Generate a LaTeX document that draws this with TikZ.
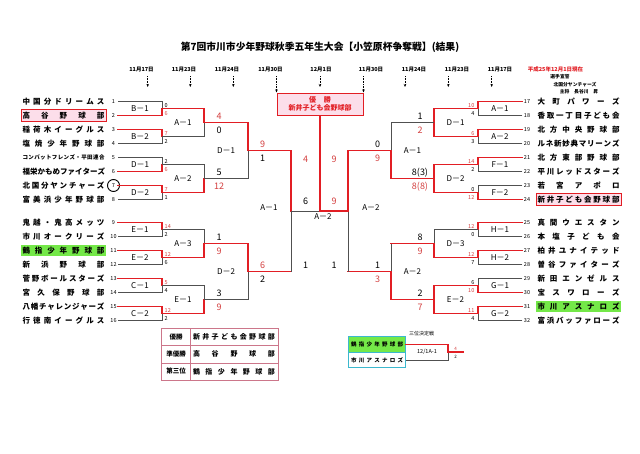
\documentclass[tikz,border=0pt]{standalone}
\usepackage{fontspec}
\setmainfont{Noto Sans CJK JP}
\usetikzlibrary{arrows.meta}

\definecolor{winred}{RGB}{226,30,36}
\definecolor{scorered}{RGB}{212,64,64}
\definecolor{lossgray}{RGB}{80,80,80}
\definecolor{boxpink}{RGB}{252,222,234}
\definecolor{teamgreen}{RGB}{116,232,72}
\definecolor{thirdteal}{RGB}{60,184,206}
\definecolor{tablered}{RGB}{204,118,138}

\makeatletter
\newcommand\spreadtext[2]{\makebox[#1][s]{\def\spreadsep{}\@tfor\spreadch:=#2\do{\spreadsep\spreadch\def\spreadsep{\hfill}}}}
\makeatother

\begin{document}
\begin{tikzpicture}[x=1pt, y=-1pt,
    team/.style={inner xsep=1.5pt, inner ysep=0pt, minimum height=11.5pt, font=\fontsize{7.5}{8}\selectfont\bfseries},
    seed/.style={inner sep=0.5pt, text width=8pt, align=center, font=\fontsize{5.5}{6}\selectfont},
    win/.style={draw=winred, line width=1.8pt, line cap=rect},
    lose/.style={draw=lossgray, line width=0.6pt},
    matchlab/.style={font=\fontsize{8}{8}\selectfont},
    smallscore/.style={inner sep=0pt, font=\fontsize{5.5}{6}\selectfont},
    bigscore/.style={inner sep=0pt, font=\fontsize{9}{9}\selectfont},
    redscore/.style={text=scorered},
    daylab/.style={font=\fontsize{5.5}{6}\selectfont\bfseries},
    dayarrow/.style={densely dotted, line width=0.6pt, -{Stealth[length=3pt, width=2.5pt]}},
    ranklab/.style={font=\fontsize{6.5}{7}\selectfont\bfseries},
    rankteam/.style={inner sep=0pt, font=\fontsize{7}{8}\selectfont\bfseries},
  ]
    \useasboundingbox (0,0) rectangle (640,453);
    \fill[white] (0,0) rectangle (640,453);

    % title
    \node[font=\fontsize{9.8}{10}\selectfont\bfseries] (title) at (320,47) {第7回市川市少年野球秋季五年生大会【小笠原杯争奪戦】(結果)};

    % winner box
    \node[draw=winred, fill=boxpink, line width=1pt, minimum width=86pt, minimum height=22pt, inner sep=0pt, text=winred, align=center, font=\fontsize{7}{8.5}\selectfont\bfseries] (champ) at (320,104) {優\hspace{8pt}勝\\新井子ども会野球部};

    % dates
    \node[daylab] (d1) at (141.5,70) {11月17日};
    \node[daylab] (d2) at (184,70) {11月23日};
    \node[daylab] (d3) at (227,70) {11月24日};
    \node[daylab] (d4) at (270.5,70) {11月30日};
    \node[daylab] (d5) at (321,70) {12月1日};
    \node[daylab] (d6) at (371,70) {11月30日};
    \node[daylab] (d7) at (414,70) {11月24日};
    \node[daylab] (d8) at (457,70) {11月23日};
    \node[daylab] (d9) at (500,70) {11月17日};
    \coordinate (e1) at (147.7,87);
    \coordinate (e2) at (190.3,87);
    \coordinate (e3) at (233.3,87);
    \coordinate (e5) at (320,87);
    \coordinate (e7) at (405,87);
    \coordinate (e8) at (448.3,87);
    \coordinate (e9) at (491.7,87);
    \draw[dayarrow] (d1.south -| e1) -- (e1);
    \draw[dayarrow] (d2.south -| e2) -- (e2);
    \draw[dayarrow] (d3.south -| e3) -- (e3);
    \draw[dayarrow] (d4.south -| champ.north west) -- (champ.north west);
    \draw[dayarrow] (d5.south -| e5) -- (e5);
    \draw[dayarrow] (d6.south -| champ.north east) -- (champ.north east);
    \draw[dayarrow] (d7.south -| e7) -- (e7);
    \draw[dayarrow] (d8.south -| e8) -- (e8);
    \draw[dayarrow] (d9.south -| e9) -- (e9);

    % note top right
    \node[font=\fontsize{5.5}{6}\selectfont\bfseries, text=winred] (asof) at (555.5,69) {平成25年12月1日現在};
    \node[font=\fontsize{4.8}{5}\selectfont\bfseries] (oath) at (560,77) {選手宣誓};
    \node[font=\fontsize{4.8}{5}\selectfont\bfseries] (oathteam) at (575,84.5) {北国分ヤンチャーズ};
    \node[font=\fontsize{4.8}{5}\selectfont\bfseries] (oathname) at (579,92) {主将　長谷川　昇};

    % left teams
    \node[team] (t1) at (63.5,101.5) {\spreadtext{82pt}{中国分ドリームス}};
    \node[team, fill=boxpink, draw=winred, line width=0.8pt] (t2) at (63.5,115.5) {\spreadtext{82pt}{高谷野球部}};
    \node[team] (t3) at (63.5,129.5) {\spreadtext{82pt}{稲荷木イーグルス}};
    \node[team] (t4) at (63.5,143.5) {\spreadtext{82pt}{塩焼少年野球部}};
    \node[team] (t5) at (63.5,157.5) {\fontsize{5.5}{6}\selectfont\spreadtext{82pt}{コンバットフレンズ・平田連合}};
    \node[team] (t6) at (63.5,171.5) {\spreadtext{82pt}{福栄かもめファイターズ}};
    \node[team] (t7) at (63.5,185.5) {\spreadtext{82pt}{北国分ヤンチャーズ}};
    \node[team] (t8) at (63.5,199.5) {\spreadtext{82pt}{富美浜少年野球部}};
    \node[team] (t9) at (63.5,222.5) {\spreadtext{82pt}{鬼越・鬼高メッツ}};
    \node[team] (t10) at (63.5,236.5) {\spreadtext{82pt}{市川オークリーズ}};
    \node[team, fill=teamgreen] (t11) at (63.5,250.5) {\spreadtext{82pt}{鶴指少年野球部}};
    \node[team] (t12) at (63.5,264.5) {\spreadtext{82pt}{新浜野球部}};
    \node[team] (t13) at (63.5,278.5) {\spreadtext{82pt}{菅野ボールスターズ}};
    \node[team] (t14) at (63.5,292.5) {\spreadtext{82pt}{宮久保野球部}};
    \node[team] (t15) at (63.5,306.5) {\spreadtext{82pt}{八幡チャレンジャーズ}};
    \node[team] (t16) at (63.5,320.5) {\spreadtext{82pt}{行徳南イーグルス}};

    \node[seed] (n1) at (113.5,101.5) {1};
    \node[seed] (n2) at (113.5,115.5) {2};
    \node[seed] (n3) at (113.5,129.5) {3};
    \node[seed] (n4) at (113.5,143.5) {4};
    \node[seed] (n5) at (113.5,157.5) {5};
    \node[seed] (n6) at (113.5,171.5) {6};
    \node[seed] (n7) at (113.5,185.5) {7};
    \node[seed] (n8) at (113.5,199.5) {8};
    \node[seed] (n9) at (113.5,222.5) {9};
    \node[seed] (n10) at (113.5,236.5) {10};
    \node[seed] (n11) at (113.5,250.5) {11};
    \node[seed] (n12) at (113.5,264.5) {12};
    \node[seed] (n13) at (113.5,278.5) {13};
    \node[seed] (n14) at (113.5,292.5) {14};
    \node[seed] (n15) at (113.5,306.5) {15};
    \node[seed] (n16) at (113.5,320.5) {16};
    \draw[line width=0.9pt] (n7.center) circle (6);

    % right teams
    \node[seed] (n17) at (527,101.5) {17};
    \node[seed] (n18) at (527,115.5) {18};
    \node[seed] (n19) at (527,129.5) {19};
    \node[seed] (n20) at (527,143.5) {20};
    \node[seed] (n21) at (527,157.5) {21};
    \node[seed] (n22) at (527,171.5) {22};
    \node[seed] (n23) at (527,185.5) {23};
    \node[seed] (n24) at (527,199.5) {24};
    \node[seed] (n25) at (527,222.5) {25};
    \node[seed] (n26) at (527,236.5) {26};
    \node[seed] (n27) at (527,250.5) {27};
    \node[seed] (n28) at (527,264.5) {28};
    \node[seed] (n29) at (527,278.5) {29};
    \node[seed] (n30) at (527,292.5) {30};
    \node[seed] (n31) at (527,306.5) {31};
    \node[seed] (n32) at (527,320.5) {32};

    \node[team] (t17) at (578.5,101.5) {\spreadtext{82pt}{大町パワーズ}};
    \node[team] (t18) at (578.5,115.5) {\spreadtext{82pt}{香取一丁目子ども会}};
    \node[team] (t19) at (578.5,129.5) {\spreadtext{82pt}{北方中央野球部}};
    \node[team] (t20) at (578.5,143.5) {\spreadtext{82pt}{ルネ新妙典マリーンズ}};
    \node[team] (t21) at (578.5,157.5) {\spreadtext{82pt}{北方東部野球部}};
    \node[team] (t22) at (578.5,171.5) {\spreadtext{82pt}{平川レッドスターズ}};
    \node[team] (t23) at (578.5,185.5) {\spreadtext{82pt}{若宮アポロ}};
    \node[team, fill=boxpink, draw=winred, line width=0.8pt] (t24) at (578.5,199.5) {\spreadtext{82pt}{新井子ども会野球部}};
    \node[team] (t25) at (578.5,222.5) {\spreadtext{82pt}{真間ウエスタン}};
    \node[team] (t26) at (578.5,236.5) {\spreadtext{82pt}{本塩子ども会}};
    \node[team] (t27) at (578.5,250.5) {\spreadtext{82pt}{柏井ユナイテッド}};
    \node[team] (t28) at (578.5,264.5) {\spreadtext{82pt}{曽谷ファイターズ}};
    \node[team] (t29) at (578.5,278.5) {\spreadtext{82pt}{新田エンゼルス}};
    \node[team] (t30) at (578.5,292.5) {\spreadtext{82pt}{宝スワローズ}};
    \node[team, fill=teamgreen] (t31) at (578.5,306.5) {\spreadtext{82pt}{市川アスナロズ}};
    \node[team] (t32) at (578.5,320.5) {\spreadtext{82pt}{富浜バッファローズ}};

    % bracket points
    \coordinate (o1) at (162,108.5);
    \coordinate (o2) at (162,136.5);
    \coordinate (o3) at (162,164.5);
    \coordinate (o4) at (162,192.5);
    \coordinate (o5) at (162,229.5);
    \coordinate (o6) at (162,257.5);
    \coordinate (o7) at (162,285.5);
    \coordinate (o8) at (162,313.5);
    \coordinate (p1) at (204,122.5);
    \coordinate (p2) at (204,178.5);
    \coordinate (p3) at (204,243.5);
    \coordinate (p4) at (204,299.5);
    \coordinate (q1) at (248,150.5);
    \coordinate (q2) at (248,271.5);
    \coordinate (s1) at (291,211);
    \coordinate (f) at (320,211);
    \coordinate (s2) at (348,211);
    \coordinate (q3) at (391,150.5);
    \coordinate (q4) at (391,271.5);
    \coordinate (p5) at (434,122.5);
    \coordinate (p6) at (434,178.5);
    \coordinate (p7) at (434,243.5);
    \coordinate (p8) at (434,299.5);
    \coordinate (o9) at (478,108.5);
    \coordinate (o10) at (478,136.5);
    \coordinate (o11) at (478,164.5);
    \coordinate (o12) at (478,192.5);
    \coordinate (o13) at (478,229.5);
    \coordinate (o14) at (478,257.5);
    \coordinate (o15) at (478,285.5);
    \coordinate (o16) at (478,313.5);

    % left first round
    \draw[lose] (n1.east) -| (o1);
    \draw[win] (n2.east) -| (o1);
    \draw[lose] (n4.east) -| (o2);
    \draw[win] (n3.east) -| (o2);
    \draw[lose] (n5.east) -| (o3);
    \draw[win] (n6.east) -| (o3);
    \draw[lose] (n8.east) -| (o4);
    \draw[win] (n7.east) -| (o4);
    \draw[lose] (n10.east) -| (o5);
    \draw[win] (n9.east) -| (o5);
    \draw[lose] (n12.east) -| (o6);
    \draw[win] (n11.east) -| (o6);
    \draw[lose] (n14.east) -| (o7);
    \draw[win] (n13.east) -| (o7);
    \draw[lose] (n16.east) -| (o8);
    \draw[win] (n15.east) -| (o8);

    % left second round
    \draw[lose] (o2) -| (p1);
    \draw[win] (o1) -| (p1);
    \draw[lose] (o3) -| (p2);
    \draw[win] (o4) -| (p2);
    \draw[lose] (o5) -| (p3);
    \draw[win] (o6) -| (p3);
    \draw[lose] (o7) -| (p4);
    \draw[win] (o8) -| (p4);

    % left third round
    \draw[lose] (p2) -| (q1);
    \draw[win] (p1) -| (q1);
    \draw[lose] (p4) -| (q2);
    \draw[win] (p3) -| (q2);

    % left semi final
    \draw[win] (q2) -- (q2 -| s1);
    \draw[lose] (q2 -| s1) -- (s1);
    \draw[win] (q1) -| (s1);

    % right first round
    \draw[lose] (n18.west) -| (o9);
    \draw[win] (n17.west) -| (o9);
    \draw[lose] (n20.west) -| (o10);
    \draw[win] (n19.west) -| (o10);
    \draw[lose] (n22.west) -| (o11);
    \draw[win] (n21.west) -| (o11);
    \draw[lose] (n23.west) -| (o12);
    \draw[win] (n24.west) -| (o12);
    \draw[lose] (n26.west) -| (o13);
    \draw[win] (n25.west) -| (o13);
    \draw[lose] (n28.west) -| (o14);
    \draw[win] (n27.west) -| (o14);
    \draw[lose] (n29.west) -| (o15);
    \draw[win] (n30.west) -| (o15);
    \draw[lose] (n32.west) -| (o16);
    \draw[win] (n31.west) -| (o16);

    % right second round
    \draw[win] (o9) -| (p5);
    \draw[win] (o10) -| (p5);
    \draw[win] (o11) -| (p6);
    \draw[win] (o12) -| (p6);
    \draw[lose] (o13) -| (p7);
    \draw[win] (o14) -| (p7);
    \draw[win] (o15) -| (p8);
    \draw[win] (o16) -| (p8);

    % right third round
    \draw[lose] (p5) -| (q3);
    \draw[win] (p6) -| (q3);
    \draw[win] (p7) -- (p7 -| q4);
    \draw[lose] (p7 -| q4) -- (q4);
    \draw[win] (p8) -| (q4);

    % right semi final
    \draw[win] (q4) -- (q4 -| s2);
    \draw[lose] (q4 -| s2) -- (s2);
    \draw[win] (q3) -| (s2);

    % final
    \draw[lose] (s1) -- (f);
    \draw[win] (s2) -- (f) -- (champ.south);

    % match labels
    \node[matchlab] (lb1) at (140,108.5) {B－1};
    \node[matchlab] (lb2) at (140,136.5) {B－2};
    \node[matchlab] (lb3) at (140,164.5) {D－1};
    \node[matchlab] (lb4) at (140,192.5) {D－2};
    \node[matchlab] (lb5) at (140,229.5) {E－1};
    \node[matchlab] (lb6) at (140,257.5) {E－2};
    \node[matchlab] (lb7) at (140,285.5) {C－1};
    \node[matchlab] (lb8) at (140,313.5) {C－2};
    \node[matchlab] (lc1) at (183,122.5) {A－1};
    \node[matchlab] (lc2) at (183,178.5) {A－2};
    \node[matchlab] (lc3) at (183,243.5) {A－3};
    \node[matchlab] (lc4) at (183,299.5) {E－1};
    \node[matchlab] (ld1) at (226,150.5) {D－1};
    \node[matchlab] (ld2) at (226,271.5) {D－2};
    \node[matchlab] (ls1) at (269,208) {A－1};
    \node[matchlab] (lf) at (323,217) {A－2};
    \node[matchlab] (ls2) at (371,208) {A－2};
    \node[matchlab] (ld3) at (412.5,150.5) {A－1};
    \node[matchlab] (ld4) at (412.5,271.5) {A－2};
    \node[matchlab] (lc5) at (455.5,122.5) {D－1};
    \node[matchlab] (lc6) at (455.5,178.5) {D－2};
    \node[matchlab] (lc7) at (455.5,243.5) {D－3};
    \node[matchlab] (lc8) at (455.5,299.5) {E－2};
    \node[matchlab] (lb9) at (500,108.5) {A－1};
    \node[matchlab] (lb10) at (500,136.5) {A－2};
    \node[matchlab] (lb11) at (500,164.5) {F－1};
    \node[matchlab] (lb12) at (500,192.5) {F－2};
    \node[matchlab] (lb13) at (500,229.5) {H－1};
    \node[matchlab] (lb14) at (500,257.5) {H－2};
    \node[matchlab] (lb15) at (500,285.5) {G－1};
    \node[matchlab] (lb16) at (500,313.5) {G－2};

    % scores left first round
    \node[smallscore, anchor=west] (sa1) at (164.5,105.5) {0};
    \node[smallscore, anchor=west, redscore] (sa2) at (164.5,113.5) {6};
    \node[smallscore, anchor=west, redscore] (sa3) at (164.5,133.5) {7};
    \node[smallscore, anchor=west] (sa4) at (164.5,141.5) {2};
    \node[smallscore, anchor=west] (sa5) at (164.5,161.5) {2};
    \node[smallscore, anchor=west, redscore] (sa6) at (164.5,169.5) {6};
    \node[smallscore, anchor=west, redscore] (sa7) at (164.5,189.5) {7};
    \node[smallscore, anchor=west] (sa8) at (164.5,197.5) {1};
    \node[smallscore, anchor=west, redscore] (sa9) at (164.5,226.5) {14};
    \node[smallscore, anchor=west] (sa10) at (164.5,234.5) {2};
    \node[smallscore, anchor=west, redscore] (sa11) at (164.5,254.5) {12};
    \node[smallscore, anchor=west] (sa12) at (164.5,262.5) {6};
    \node[smallscore, anchor=west, redscore] (sa13) at (164.5,282.5) {5};
    \node[smallscore, anchor=west] (sa14) at (164.5,290.5) {4};
    \node[smallscore, anchor=west, redscore] (sa15) at (164.5,310.5) {12};
    \node[smallscore, anchor=west] (sa16) at (164.5,318.5) {2};

    % scores right first round
    \node[smallscore, anchor=east, redscore] (sa17) at (474.5,105.5) {10};
    \node[smallscore, anchor=east] (sa18) at (474.5,113.5) {4};
    \node[smallscore, anchor=east, redscore] (sa19) at (474.5,133.5) {6};
    \node[smallscore, anchor=east] (sa20) at (474.5,141.5) {3};
    \node[smallscore, anchor=east, redscore] (sa21) at (474.5,161.5) {14};
    \node[smallscore, anchor=east] (sa22) at (474.5,169.5) {2};
    \node[smallscore, anchor=east] (sa23) at (474.5,189.5) {0};
    \node[smallscore, anchor=east, redscore] (sa24) at (474.5,197.5) {12};
    \node[smallscore, anchor=east, redscore] (sa25) at (474.5,226.5) {12};
    \node[smallscore, anchor=east] (sa26) at (474.5,234.5) {0};
    \node[smallscore, anchor=east, redscore] (sa27) at (474.5,254.5) {12};
    \node[smallscore, anchor=east] (sa28) at (474.5,262.5) {7};
    \node[smallscore, anchor=east] (sa29) at (474.5,282.5) {6};
    \node[smallscore, anchor=east, redscore] (sa30) at (474.5,290.5) {10};
    \node[smallscore, anchor=east, redscore] (sa31) at (474.5,310.5) {11};
    \node[smallscore, anchor=east] (sa32) at (474.5,318.5) {4};

    % scores second round
    \node[bigscore, redscore] (sb1) at (219,116.5) {4};
    \node[bigscore] (sb2) at (219,130.5) {0};
    \node[bigscore] (sb3) at (219,172.5) {5};
    \node[bigscore, redscore] (sb4) at (219,186.5) {12};
    \node[bigscore] (sb5) at (219,237.5) {1};
    \node[bigscore, redscore] (sb6) at (219,251.5) {9};
    \node[bigscore] (sb7) at (219,293.5) {3};
    \node[bigscore, redscore] (sb8) at (219,307.5) {9};
    \node[bigscore] (sb9) at (420,116.5) {1};
    \node[bigscore, redscore] (sb10) at (420,130.5) {2};
    \node[bigscore] (sb11) at (420,172.5) {8(3)};
    \node[bigscore, redscore] (sb12) at (420,186.5) {8(8)};
    \node[bigscore] (sb13) at (420,237.5) {8};
    \node[bigscore, redscore] (sb14) at (420,251.5) {9};
    \node[bigscore] (sb15) at (420,293.5) {2};
    \node[bigscore, redscore] (sb16) at (420,307.5) {7};

    % scores third round
    \node[bigscore, redscore] (sc1) at (262.5,144.5) {9};
    \node[bigscore] (sc2) at (262.5,158.5) {1};
    \node[bigscore, redscore] (sc3) at (262.5,265.5) {6};
    \node[bigscore] (sc4) at (262.5,279.5) {2};
    \node[bigscore] (sc5) at (377.5,144.5) {0};
    \node[bigscore, redscore] (sc6) at (377.5,158.5) {9};
    \node[bigscore] (sc7) at (377.5,265.5) {1};
    \node[bigscore, redscore] (sc8) at (377.5,279.5) {3};

    % scores semi final and final
    \node[bigscore, redscore] (sd1) at (305.5,159) {4};
    \node[bigscore] (sd2) at (305.5,265) {1};
    \node[bigscore, redscore] (sd3) at (334,159) {9};
    \node[bigscore] (sd4) at (334,265) {1};
    \node[bigscore] (se1) at (305.5,201.5) {6};
    \node[bigscore, redscore] (se2) at (334,201.5) {9};

    % result table
    \draw[tablered, line width=0.6pt] (161.5,328.5) rectangle (278.5,380);
    \draw[tablered, line width=0.6pt] (161.5,345.5) -- (278.5,345.5);
    \draw[tablered, line width=0.6pt] (161.5,362.8) -- (278.5,362.8);
    \draw[tablered, line width=0.6pt] (190,328.5) -- (190,380);
    \node[ranklab] (rk1) at (176,337) {優勝};
    \node[ranklab] (rk2) at (176,354.2) {準優勝};
    \node[ranklab] (rk3) at (176,371.4) {第三位};
    \node[rankteam] (rt1) at (234,337) {\spreadtext{82pt}{新井子ども会野球部}};
    \node[rankteam] (rt2) at (234,354.2) {\spreadtext{82pt}{高谷野球部}};
    \node[rankteam] (rt3) at (234,371.4) {\spreadtext{82pt}{鶴指少年野球部}};

    % third place match
    \node[font=\fontsize{5}{6}\selectfont] (thirdlab) at (421.7,333.3) {三位決定戦};
    \node[fill=teamgreen, minimum width=57.4pt, minimum height=15.4pt, inner sep=0pt, font=\fontsize{5.5}{6}\selectfont\bfseries] (th1) at (377,344.4) {\spreadtext{52pt}{鶴指少年野球部}};
    \node[minimum width=57.4pt, minimum height=15.6pt, inner sep=0pt, font=\fontsize{5.5}{6}\selectfont\bfseries] (th2) at (377,359.9) {\spreadtext{52pt}{市川アスナロズ}};
    \draw[thirdteal, line width=0.9pt] (th1.north west) rectangle (th2.south east);
    \draw[thirdteal, line width=0.5pt] (th1.south west) -- (th1.south east);
    \coordinate (tp) at (448.3,352.2);
    \coordinate (tpo) at (463.3,352.2);
    \draw[lose] (th2.east) -| (tp);
    \draw[win] (th1.east) -| (tp);
    \draw[win] (tp) -- (tpo);
    \node[font=\fontsize{5.5}{6}\selectfont] (thirdmatch) at (427,352.2) {12/1A-1};
    \node[inner sep=0pt, font=\fontsize{4.5}{5}\selectfont, redscore] (tsa) at (455.5,349) {4};
    \node[inner sep=0pt, font=\fontsize{4.5}{5}\selectfont] (tsb) at (455.5,357) {2};
\end{tikzpicture}
\end{document}
